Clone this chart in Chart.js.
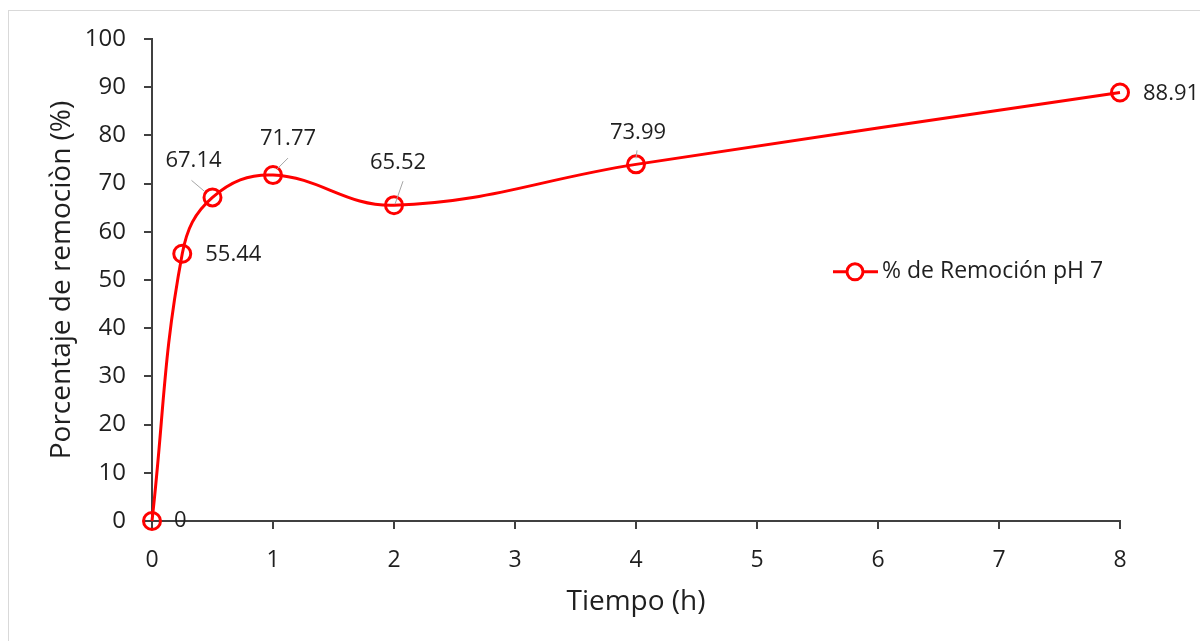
<!DOCTYPE html>
<html>
<head>
<meta charset="utf-8">
<script src="https://cdn.jsdelivr.net/npm/chart.js@4.4.1/dist/chart.umd.min.js"></script>
<style>
  html, body { margin: 0; padding: 0; background: #fff; }
  #wrap { position: relative; width: 1200px; height: 641px; }
</style>
</head>
<body>
<div id="wrap"><canvas id="removalChart" width="1200" height="641"></canvas></div>
<script>
const timeHours = [0, 0.25, 0.5, 1, 2, 4, 8];
const removalPct = [0, 55.44, 67.14, 71.77, 65.52, 73.99, 88.91];
const xTickValues = [0, 1, 2, 3, 4, 5, 6, 7, 8];
const yTickValues = [0, 10, 20, 30, 40, 50, 60, 70, 80, 90, 100];
const seriesLabel = '% de Remoción pH 7';
const xTitle = 'Tiempo (h)';
const yTitle = 'Porcentaje de remociòn (%)';

const RED = '#ff0000';
const AXIS = '#404040';
const TEXT = '#1f1f1f';
const FONT = "'Open Sans', sans-serif";

// where each value label sits relative to its marker (px), and whether it gets a leader line
const labelPlacement = [
    { dx: 22, dy: 0, align: 'left' },
    { dx: 23, dy: 1, align: 'left' },
    { dx: -19, dy: -37, align: 'center', leader: [[-21, -17], [-8, -6]] },
    { dx: 15, dy: -36, align: 'center', leader: [[15, -17], [4, -6]] },
    { dx: 4, dy: -42, align: 'center', leader: [[9, -24], [1, -1]] },
    { dx: 2, dy: -32, align: 'center', leader: [[1, -14], [0, -6]] },
    { dx: 23, dy: 1, align: 'left' }
];

const points = timeHours.map((t, i) => ({ x: t, y: removalPct[i] }));

const frameAndLabels = {
    id: 'frameAndLabels',
    beforeDraw(chart) {
        const ctx = chart.ctx;
        ctx.save();
        ctx.fillStyle = '#fff';
        ctx.fillRect(0, 0, chart.width, chart.height);
        ctx.strokeStyle = '#d9d9d9';
        ctx.lineWidth = 1;
        ctx.strokeRect(8.5, 10.5, chart.width + 10, chart.height + 10);
        ctx.restore();
    },
    afterDatasetsDraw(chart) {
        const ctx = chart.ctx;
        const meta = chart.getDatasetMeta(0);
        ctx.save();
        ctx.font = '22px ' + FONT;
        ctx.textBaseline = 'middle';
        meta.data.forEach((pt, i) => {
            const p = labelPlacement[i];
            if (p.leader) {
                ctx.strokeStyle = '#a6a6a6';
                ctx.lineWidth = 1;
                ctx.beginPath();
                ctx.moveTo(pt.x + p.leader[0][0], pt.y + p.leader[0][1]);
                ctx.lineTo(pt.x + p.leader[1][0], pt.y + p.leader[1][1]);
                ctx.stroke();
            }
            ctx.fillStyle = TEXT;
            ctx.textAlign = p.align;
            ctx.fillText(String(removalPct[i]), pt.x + p.dx, pt.y + p.dy);
        });

        // legend: line with open circle marker, inside the plot on the right
        const a = chart.chartArea;
        const lx = a.left + (a.right - a.left) * 0.7035;
        const ly = a.top + (a.bottom - a.top) * 0.483;
        ctx.strokeStyle = RED;
        ctx.lineWidth = 3;
        ctx.beginPath();
        ctx.moveTo(lx, ly);
        ctx.lineTo(lx + 45, ly);
        ctx.stroke();
        ctx.lineWidth = 3;
        ctx.beginPath();
        ctx.arc(lx + 22, ly, 8, 0, Math.PI * 2);
        ctx.fillStyle = '#fff';
        ctx.fill();
        ctx.stroke();
        ctx.font = '23px ' + FONT;
        ctx.fillStyle = TEXT;
        ctx.textAlign = 'left';
        ctx.fillText(seriesLabel, lx + 49, ly);
        ctx.restore();
    }
};

new Chart(document.getElementById('removalChart'), {
    type: 'scatter',
    data: {
        datasets: [{
            label: seriesLabel,
            data: points,
            showLine: true,
            clip: false,
            borderColor: RED,
            borderWidth: 3,
            tension: 0.4,
            pointRadius: 8.5,
            pointHoverRadius: 8.5,
            pointBorderWidth: 3,
            pointBorderColor: RED,
            pointBackgroundColor: 'rgba(0,0,0,0)'
        }]
    },
    options: {
        responsive: false,
        animation: false,
        layout: { padding: { left: 10, right: 80, top: 39, bottom: 10 } },
        plugins: {
            legend: { display: false },
            tooltip: { enabled: false }
        },
        scales: {
            x: {
                type: 'linear',
                min: 0,
                max: 8,
                afterBuildTicks: s => { s.ticks = xTickValues.map(v => ({ value: v })); },
                afterFit: s => { s.height = 110; },
                border: { color: AXIS, width: 2 },
                grid: { drawOnChartArea: false, drawTicks: true, tickLength: 8, color: AXIS, lineWidth: 2 },
                ticks: { color: TEXT, padding: 18, font: { family: FONT, size: 23 } },
                title: {
                    display: true,
                    text: xTitle,
                    color: TEXT,
                    font: { family: FONT, size: 28 },
                    padding: { top: 0, bottom: 12 }
                }
            },
            y: {
                min: 0,
                max: 100,
                afterBuildTicks: s => { s.ticks = yTickValues.map(v => ({ value: v })); },
                afterFit: s => { s.width = 142; },
                border: { color: AXIS, width: 2 },
                grid: { drawOnChartArea: false, drawTicks: true, tickLength: 8, color: AXIS, lineWidth: 2 },
                ticks: { color: TEXT, padding: 18, font: { family: FONT, size: 24 } },
                title: {
                    display: true,
                    text: yTitle,
                    color: TEXT,
                    font: { family: FONT, size: 28 },
                    padding: { top: 35, bottom: 0 }
                }
            }
        }
    },
    plugins: [frameAndLabels]
});
</script>
</body>
</html>
